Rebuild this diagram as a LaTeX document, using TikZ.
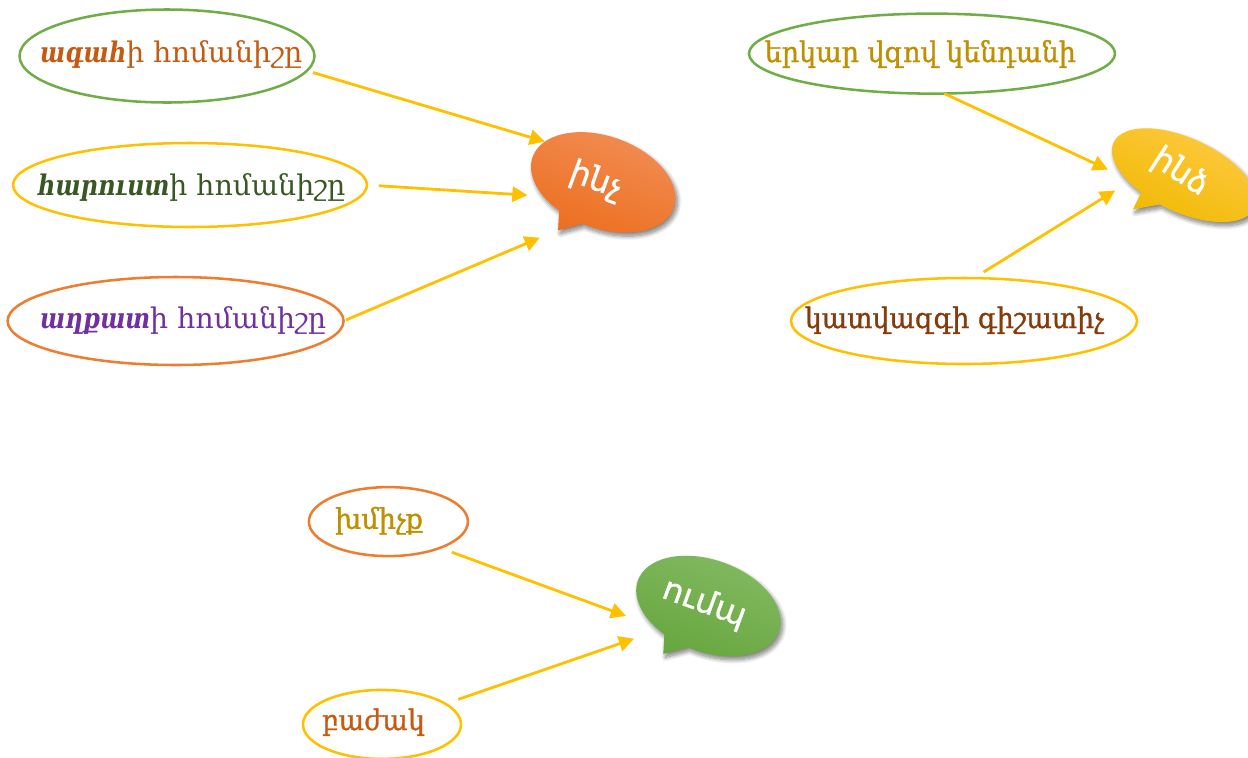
\documentclass[tikz,border=0pt]{standalone}
\usepackage{fontspec}
\setmainfont[BoldItalicFeatures={FakeStretch=0.84}]{DejaVu Serif}
\newfontfamily\heavyfont[FakeBold=1.2,FakeStretch=0.95]{DejaVu Serif}
\newfontfamily\cloudfont[FakeBold=1]{DejaVu Sans}
\usetikzlibrary{arrows.meta,shapes.geometric,shadows.blur}

\definecolor{ovalgreen}{HTML}{70AD47}
\definecolor{ovalyellow}{HTML}{FFC000}
\definecolor{ovalorange}{HTML}{ED7D31}
\definecolor{textrust}{HTML}{C55A11}
\definecolor{textforest}{HTML}{385723}
\definecolor{textpurple}{HTML}{7030A0}
\definecolor{textgold}{HTML}{BF9000}
\definecolor{textbrown}{HTML}{843C0C}
\definecolor{orangetop}{HTML}{F28E56}
\definecolor{orangemid}{HTML}{F47A22}
\definecolor{orangelow}{HTML}{EC6E1E}
\definecolor{yellowtop}{HTML}{FFCB45}
\definecolor{yellowlow}{HTML}{F0B800}
\definecolor{greentop}{HTML}{84BA64}
\definecolor{greenmid}{HTML}{6FB043}
\definecolor{greenlow}{HTML}{66A63C}

\begin{document}
\begin{tikzpicture}
        \tikzstyle{every node}=[inner sep=0pt, outer sep=0pt]
        \tikzstyle{oval}=[ellipse, draw, line width=1.8pt, fill=white]
        \tikzstyle{word}=[anchor=base west, font=\fontsize{20.2}{20.2}\selectfont]
        \tikzstyle{heavyword}=[anchor=base west, font=\heavyfont\fontsize{20.2}{20.2}\selectfont]
        \tikzstyle{cloud}=[ellipse, transform shape]
        \tikzstyle{cloudword}=[transform shape, text=white, font=\cloudfont\fontsize{23}{23}\selectfont]
        \tikzstyle{cloudshape}=[blur shadow={shadow xshift=1.5pt, shadow yshift=-2.5pt, shadow blur radius=3pt, shadow blur steps=10, shadow opacity=50}]
        \tikzstyle{pointer}=[draw=ovalyellow, line width=2pt, -{Triangle[length=3.8mm, width=3.8mm]}]

        \useasboundingbox (0,0) rectangle (31.2,-18.925);

        % speech bubbles
        \begin{scope}[shift={(15.08,-4.56)}, rotate=-20]
            \path[cloudshape, top color=orangetop, middle color=orangemid, bottom color=orangelow, shading angle=-20]
                (266:1.875 and 1.15) arc[start angle=266, end angle=605, x radius=1.875, y radius=1.15] -- (-0.65,-1.51) -- cycle;
            \node[cloud, minimum width=3.75cm, minimum height=2.3cm] (inch) at (0,0) {};
            \node[cloudword] (inchword) at (-0.18,-0.03) {ինչ};
        \end{scope}

        \begin{scope}[shift={(29.6,-4.38)}, rotate=-25]
            \path[cloudshape, top color=yellowtop, middle color=ovalyellow, bottom color=yellowlow, shading angle=-25]
                (263:1.94 and 0.925) arc[start angle=263, end angle=606, x radius=1.94, y radius=0.925] -- (-0.795,-1.31) -- cycle;
            \node[cloud, minimum width=3.88cm, minimum height=1.85cm] (indz) at (0,0) {};
            \node[cloudword, rotate=-8] (indzword) at (-0.12,0.02) {ինձ};
        \end{scope}

        \begin{scope}[shift={(17.71,-15.15)}, rotate=-20]
            \path[cloudshape, top color=greentop, middle color=greenmid, bottom color=greenlow, shading angle=-20]
                (266:1.875 and 1.15) arc[start angle=266, end angle=605, x radius=1.875, y radius=1.15] -- (-0.65,-1.51) -- cycle;
            \node[cloud, minimum width=3.75cm, minimum height=2.3cm] (umpa) at (0,0) {};
            \node[cloudword] (umpaword) at (-0.12,0.02) {ումպ};
        \end{scope}

        % ovals with their words
        \node[oval, draw=ovalgreen, minimum width=7.375cm, minimum height=2.325cm] (greedy) at (4.175,-1.4) {};
        \node[word, text=textrust] (greedyword) at (1,-1.55) {\textbf{\textit{ագահ}}ի հոմանիշը};

        \node[oval, draw=ovalyellow, minimum width=8.85cm, minimum height=2.1cm] (rich) at (4.75,-4.625) {};
        \node[word, text=textforest] (richword) at (0.95,-4.875) {\textbf{\textit{հարուստ}}ի հոմանիշը};

        \node[oval, draw=ovalorange, minimum width=8.4cm, minimum height=2.2cm] (poor) at (4.39,-8.025) {};
        \node[word, text=textpurple] (poorword) at (1,-8.2) {\textbf{\textit{աղքատ}}ի հոմանիշը};

        \node[oval, draw=ovalgreen, minimum width=9.15cm, minimum height=2cm] (giraffe) at (23.3,-1.34) {};
        \node[heavyword, text=textgold] (giraffeword) at (19.12,-1.55) {երկար վզով կենդանի};

        \node[oval, draw=ovalyellow, minimum width=8.65cm, minimum height=2.15cm] (tiger) at (24.1,-8.025) {};
        \node[heavyword, text=textbrown] (tigerword) at (20.12,-8.2) {կատվազգի գիշատիչ};

        \node[oval, draw=ovalorange, minimum width=3.975cm, minimum height=1.725cm] (drink) at (9.71,-13.04) {};
        \node[heavyword, text=textgold] (drinkword) at (8.38,-13.22) {խմիչք};

        \node[oval, draw=ovalyellow, minimum width=3.95cm, minimum height=1.725cm] (glass) at (9.55,-18.11) {};
        \node[heavyword, text=textrust] (glassword) at (8.05,-18.25) {բաժակ};

        % pointers
        \draw[pointer, shorten <=4.5pt] (greedy.-6) -- (inch.165);
        \draw[pointer, shorten <=8.5pt, shorten >=11.3pt] (rich.east) -- (inch.213);
        \draw[pointer, shorten <=1.8pt, shorten >=29.3pt] (poor.east) -- (inch.257.5);
        \draw[pointer, shorten >=13pt] (giraffe.-73) -- (indz.207);
        \draw[pointer, shorten <=8.2pt, shorten >=11.5pt] (tiger.77) -- (indz.212);
        \draw[pointer, shorten <=9pt, shorten >=21.9pt] (drink.-27) -- (umpa.221);
        \draw[pointer, shorten <=9.7pt, shorten >=18.7pt] (glass.18) -- (umpa.226);

\end{tikzpicture}
\end{document}
